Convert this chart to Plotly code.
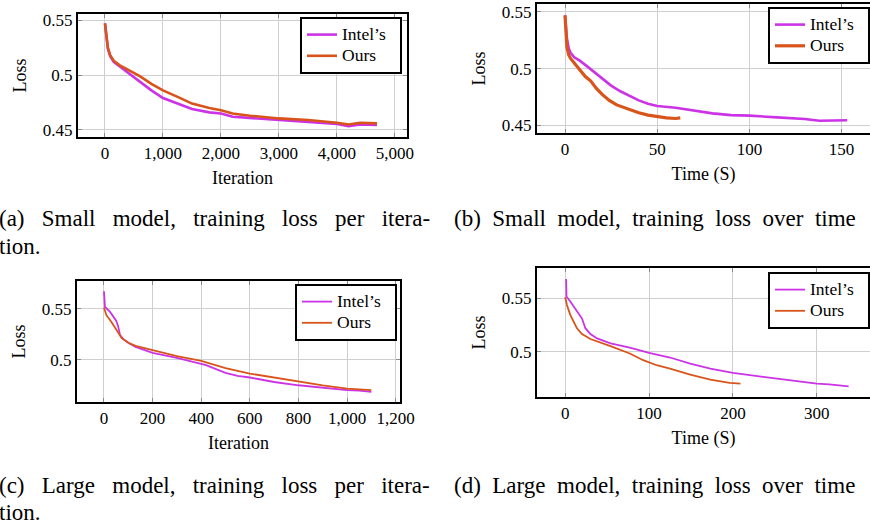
import plotly.graph_objects as go

W, H = 870, 527

# ---------------- data ----------------
# (a) small model, loss per iteration
a_intel_x = [0, 20, 50, 90, 150, 250, 400, 600, 800, 1000, 1300, 1500, 1800, 2000, 2200, 2500, 3000, 3500, 4000, 4200, 4400, 4690]
a_intel_y = [0.547, 0.535, 0.524, 0.517, 0.512, 0.508, 0.502, 0.494, 0.486, 0.479, 0.473, 0.469, 0.466, 0.465, 0.462, 0.461, 0.459, 0.457, 0.4555, 0.4535, 0.455, 0.4545]
a_ours_x = [0, 20, 50, 90, 150, 250, 400, 600, 800, 1000, 1300, 1500, 1800, 2000, 2200, 2500, 3000, 3500, 4000, 4200, 4400, 4690]
a_ours_y = [0.547, 0.536, 0.525, 0.518, 0.513, 0.509, 0.505, 0.499, 0.492, 0.486, 0.479, 0.474, 0.470, 0.468, 0.465, 0.463, 0.4605, 0.459, 0.4565, 0.455, 0.4565, 0.456]

# (b) small model, loss over time
b_intel_x = [0, 1, 2, 3, 5, 8, 12, 16, 20, 25, 30, 35, 40, 45, 50, 60, 70, 80, 90, 100, 115, 130, 138, 145, 153]
b_intel_y = [0.547, 0.527, 0.518, 0.514, 0.510, 0.507, 0.502, 0.497, 0.492, 0.485, 0.480, 0.476, 0.472, 0.469, 0.467, 0.4655, 0.463, 0.4605, 0.459, 0.4585, 0.457, 0.4555, 0.454, 0.4545, 0.4545]
b_ours_x = [0, 1, 2, 3, 5, 8, 11, 14, 17, 20, 24, 28, 32, 36, 40, 45, 50, 55, 60, 62.5]
b_ours_y = [0.547, 0.519, 0.512, 0.509, 0.505, 0.499, 0.493, 0.489, 0.4825, 0.4775, 0.472, 0.468, 0.4655, 0.463, 0.461, 0.459, 0.4575, 0.4565, 0.456, 0.4565]

# (c) large model, loss per iteration
c_intel_x = [0, 4, 25, 50, 58, 66, 80, 100, 130, 200, 300, 400, 420, 500, 550, 600, 700, 800, 900, 1000, 1050, 1100]
c_intel_y = [0.567, 0.5516, 0.5467, 0.538, 0.533, 0.524, 0.520, 0.5165, 0.5125, 0.5065, 0.5016, 0.4955, 0.4945, 0.487, 0.484, 0.4824, 0.478, 0.4748, 0.4722, 0.4700, 0.4695, 0.4683]
c_ours_x = [0, 10, 30, 50, 73, 100, 130, 200, 300, 400, 500, 600, 700, 800, 900, 1000, 1100]
c_ours_y = [0.551, 0.5435, 0.537, 0.530, 0.521, 0.5165, 0.5135, 0.5092, 0.5033, 0.4987, 0.4915, 0.4863, 0.4824, 0.4788, 0.4748, 0.4716, 0.4700]

# (d) large model, loss over time
d_intel_x = [1, 1.5, 6, 14, 20, 24, 30, 38, 54, 77, 100, 125, 149, 173, 200, 236, 276, 300, 315, 338]
d_intel_y = [0.5678, 0.5516, 0.5469, 0.5375, 0.531, 0.522, 0.5166, 0.5125, 0.5078, 0.504, 0.499, 0.4947, 0.489, 0.4844, 0.4803, 0.4766, 0.4728, 0.4703, 0.4697, 0.4678]
d_ours_x = [0, 2, 6, 14, 20, 30, 54, 77, 93, 109, 125, 149, 173, 196, 209]
d_ours_y = [0.551, 0.5437, 0.5344, 0.5219, 0.5166, 0.5119, 0.5053, 0.4984, 0.4922, 0.4875, 0.4844, 0.4788, 0.474, 0.471, 0.4703]

series_names = ["Intel\u2019s", "Ours"]

a_xticks = [0, 1000, 2000, 3000, 4000, 5000]
b_xticks = [0, 50, 100, 150]
c_xticks = [0, 200, 400, 600, 800, 1000, 1200]
d_xticks = [0, 100, 200, 300]
ab_yticks = [0.45, 0.5, 0.55]
ab_yticklabels = ["0.45", "0.5", "0.55"]
cd_yticks = [0.5, 0.55]
cd_yticklabels = ["0.5", "0.55"]

captions = [
    "(a) Small model, training loss per itera-",
    "(b) Small model, training loss over time",
    "(c) Large model, training loss per itera-",
    "(d) Large model, training loss over time",
]
caption_cont = "tion."

# ---------------- style ----------------
FONT = "Liberation Serif"
C_INTEL = "#cc33e6"
C_OURS = "#d9541a"
GRID = "#cfcfcf"
CAP_SIZE = 23


def px(x):
    return x / W


def py(y):
    return 1 - y / H


def justify(s, extra):
    # LaTeX justified caption lines have stretched inter-word spaces
    return s.replace(" ", "\u00a0" * extra + " ")


fig = go.Figure()

panels = [
    dict(n="", dx=(78, 407), dy=(14, 137), xr=[-465, 5207], yr=[0.4436, 0.5555],
         xt=a_xticks, yt=ab_yticks, ytl=ab_yticklabels, xtitle="Iteration",
         data=[(a_intel_x, a_intel_y), (a_ours_x, a_ours_y)], lw=(2.6, 2.6),
         leg=(300, 17), full=True),
    dict(n="2", dx=(537, 870), dy=(4, 133), xr=[-15.2, 165.4], yr=[0.4432, 0.557],
         xt=b_xticks, yt=ab_yticks, ytl=ab_yticklabels, xtitle="Time (S)",
         data=[(b_intel_x, b_intel_y), (b_ours_x, b_ours_y)], lw=(2.6, 3.2),
         leg=(768, 7), full=False),
    dict(n="3", dx=(77, 400), dy=(281, 402), xr=[-111, 1218], yr=[0.4584, 0.577],
         xt=c_xticks, yt=cd_yticks, ytl=cd_yticklabels, xtitle="Iteration",
         data=[(c_intel_x, c_intel_y), (c_ours_x, c_ours_y)], lw=(1.8, 1.8),
         leg=(295, 284), full=True),
    dict(n="4", dx=(537, 870), dy=(268, 397), xr=[-33.7, 363.5], yr=[0.4579, 0.5781],
         xt=d_xticks, yt=cd_yticks, ytl=cd_yticklabels, xtitle="Time (S)",
         data=[(d_intel_x, d_intel_y), (d_ours_x, d_ours_y)], lw=(1.8, 1.8),
         leg=(768, 272), full=False),
]

layout_updates = {}
for p in panels:
    n = p["n"]
    legname = "legend" + n
    for (xs, ys), name, col, lw in zip(p["data"], series_names, [C_INTEL, C_OURS], p["lw"]):
        fig.add_trace(go.Scatter(
            x=xs, y=ys, mode="lines",
            name="<span style='font-size:17.5px'>" + name + "\u00a0\u00a0</span>",
            line=dict(color=col, width=lw),
            xaxis="x" + n, yaxis="y" + n, legend=legname,
        ))
    layout_updates["xaxis" + n] = dict(
        domain=[px(p["dx"][0]), px(p["dx"][1])], anchor="y" + n,
        range=p["xr"], tickvals=p["xt"], tickformat=",d", automargin=False,
        showgrid=True, gridcolor=GRID, gridwidth=1, zeroline=False,
        showline=True, linecolor="black", linewidth=2, mirror="ticks",
        ticks="inside", ticklen=4, tickcolor="#8a8a8a", tickwidth=1,
        tickfont=dict(family=FONT, size=17, color="black"),
        title=dict(text=p["xtitle"], font=dict(family=FONT, size=18, color="black"), standoff=9),
    )
    layout_updates["yaxis" + n] = dict(
        domain=[py(p["dy"][1]), py(p["dy"][0])], anchor="x" + n,
        range=p["yr"], tickvals=p["yt"], ticktext=p["ytl"], automargin=False,
        showgrid=True, gridcolor=GRID, gridwidth=1, zeroline=False,
        showline=True, linecolor="black", linewidth=2,
        mirror="ticks" if p["full"] else False,
        ticks="inside", ticklen=4, tickcolor="#8a8a8a", tickwidth=1,
        tickfont=dict(family=FONT, size=17, color="black"),
        title=dict(text="Loss", font=dict(family=FONT, size=18, color="black"), standoff=12),
    )
    lx, ly = p["leg"]
    layout_updates[legname] = dict(
        x=px(lx), y=py(ly), xanchor="left", yanchor="top",
        xref="paper", yref="paper",
        bgcolor="white", bordercolor="black", borderwidth=2,
        font=dict(family=FONT, size=14, color="black"),
        itemwidth=30, tracegroupgap=0,
    )

annotations = []
cap_pos = [(-3, 219, 2), (452, 219, 1), (-3, 485, 2), (452, 485, 1)]
for text, (cx, cy, extra) in zip(captions, cap_pos):
    annotations.append(dict(text=justify(text, extra), x=px(cx), y=py(cy), xref="paper", yref="paper",
                            xanchor="left", yanchor="middle", showarrow=False,
                            font=dict(family=FONT, size=CAP_SIZE, color="black")))
for cy in (246, 512):
    annotations.append(dict(text=caption_cont, x=px(-3), y=py(cy), xref="paper", yref="paper",
                            xanchor="left", yanchor="middle", showarrow=False,
                            font=dict(family=FONT, size=CAP_SIZE, color="black")))

fig.update_layout(
    width=W, height=H, margin=dict(l=0, r=0, t=0, b=0, autoexpand=False),
    paper_bgcolor="white", plot_bgcolor="white",
    font=dict(family=FONT, color="black"),
    showlegend=True, annotations=annotations,
    **layout_updates,
)

fig.write_html("out.html")
